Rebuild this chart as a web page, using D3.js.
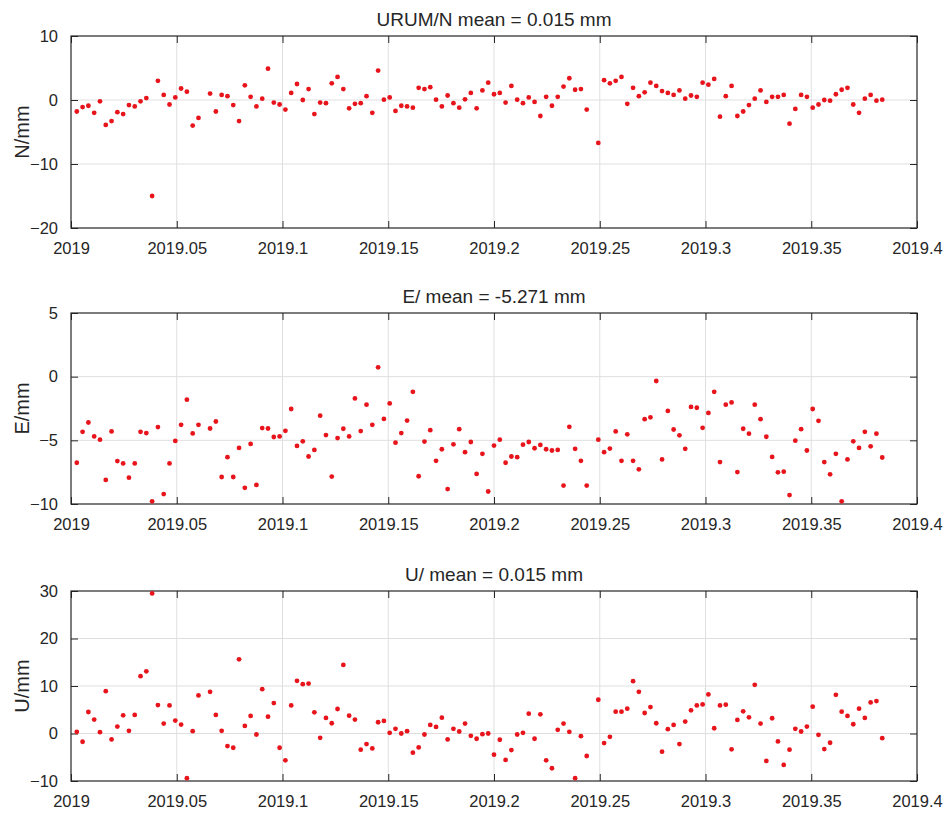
<!DOCTYPE html>
<html>
<head>
<meta charset="utf-8">
<script src="https://cdn.jsdelivr.net/npm/d3@7"></script>
<style>
  body { margin: 0; background: #fff; }
  svg { display: block; }
  text { font-family: "Liberation Sans", Arial, sans-serif; fill: #262626; }
</style>
</head>
<body>
<svg width="949" height="813"></svg>
<script>
// daily solutions, day 1..140 of 2019 (null = no solution that day)
var year0 = 2019;
var nDays = 140;

var northValues = [
  -1.8, -1.1, -0.9, -2.0, -0.2, -3.9, -3.3, -1.9, -2.2, -0.8,
  -1.0, -0.2, 0.3, -15.0, 3.0, 0.8, -0.7, 0.4, 1.8, 1.3,
  -4.0, -2.8, null, 1.0, -1.8, 0.8, 0.6, -0.8, -3.3, 2.3,
  0.5, -1.0, 0.2, 4.9, -0.4, -0.7, -1.5, 1.1, 2.5, 0.0,
  1.7, -2.2, -0.4, -0.5, 2.6, 3.6, 1.7, -1.3, -0.6, -0.5,
  0.6, -2.0, 4.6, 0.05, 0.4, -1.7, -0.9, -1.0, -1.2, 1.9,
  1.7, 2.0, 0.05, -1.0, 0.7, -0.5, -1.2, 0.1, 1.1, -1.3,
  1.5, 2.7, 0.9, 1.1, -0.4, 2.2, 0.05, -0.5, 0.4, -0.3,
  -2.5, 0.5, -0.9, 0.5, 2.1, 3.4, 1.6, 1.7, -1.5, null,
  -6.7, 3.1, 2.6, 3.0, 3.6, -0.6, 1.9, 0.6, 1.2, 2.7,
  2.2, 1.4, 1.1, 0.8, 1.5, 0.2, 0.7, 0.5, 2.7, 2.4,
  3.3, -2.6, 0.6, 2.2, -2.5, -1.8, -0.8, 0.2, 1.5, -0.3,
  0.5, 0.5, 0.8, -3.7, -1.4, 0.8, 0.5, -1.2, -0.7, 0.0,
  -0.1, 0.9, 1.6, 1.9, -0.7, -2.0, 0.2, 0.8, -0.1, 0.05
];

var eastValues = [
  -6.76, -4.33, -3.60, -4.69, -4.95, -8.11, -4.30, -6.63, -6.81, -7.93,
  -6.81, -4.33, -4.43, -9.79, -3.96, -9.22, -6.81, -5.05, -3.78, -1.81,
  -4.46, -3.78, null, -4.07, -3.52, -7.88, -6.32, -7.88, -5.60, -8.73,
  -5.28, -8.50, -4.04, -4.07, -4.74, -4.69, -4.25, -2.54, -5.44, -5.08,
  -6.27, -5.75, -3.06, -4.59, -7.85, -4.82, -4.09, -4.69, -1.71, -4.27,
  -2.20, -3.78, 0.73, -3.32, -2.10, -5.18, -4.43, -3.45, -1.19, -7.82,
  -5.10, -4.20, -6.61, -5.70, -8.83, -5.31, -4.12, -5.93, -5.13, -7.64,
  -6.06, -9.02, -5.41, -4.95, -6.76, -6.27, -6.32, -5.34, -5.13, -5.62,
  -5.36, -5.70, -5.80, -5.75, -8.55, -3.94, -5.67, -6.61, -8.55, null,
  -4.95, -5.93, -5.65, -4.30, -6.61, -4.53, -6.61, -7.28, -3.34, -3.19,
  -0.34, -6.50, -2.69, -4.15, -4.61, -5.67, -2.38, -2.44, -4.02, -2.85,
  -1.19, -6.71, -2.20, -2.02, -7.49, -4.09, -4.48, -2.20, -3.34, -4.72,
  -6.30, -7.51, -7.46, -9.30, -5.03, -4.12, -5.80, -2.54, -3.47, -6.71,
  -7.67, -6.06, -9.79, -6.50, -5.08, -5.60, -4.33, -5.47, -4.48, -6.35
];

var upValues = [
  0.35, -1.74, 4.53, 2.93, 0.28, 8.92, -1.25, 1.46, 3.83, 0.56,
  3.90, 12.06, 13.10, 29.48, 5.99, 2.09, 5.92, 2.72, 1.88, -9.41,
  0.49, 8.01, null, 8.78, 3.90, 0.56, -2.65, -3.00, 15.61, 1.60,
  3.69, -0.21, 9.34, 3.55, 6.41, -3.00, -5.64, 5.92, 11.08, 10.38,
  10.52, 4.46, -0.91, 3.28, 2.16, 5.16, 14.43, 3.76, 2.93, -3.41,
  -2.23, -3.14, 2.37, 2.65, 0.14, 0.98, 0.00, 0.49, -4.04, -2.93,
  -0.21, 1.81, 1.39, 3.34, -1.25, 0.98, 0.42, 2.09, -0.49, -1.11,
  -0.14, 0.00, -4.46, -1.32, -5.57, -3.48, -0.21, 0.14, 4.18, -1.11,
  4.04, -5.64, -7.32, 0.77, 2.09, 0.35, -9.41, -0.56, -4.74, null,
  7.11, -2.02, -0.70, 4.60, 4.60, 5.23, 11.01, 8.78, 4.32, 5.57,
  2.16, -3.83, 0.91, 1.81, -2.23, 2.51, 4.88, 5.92, 6.13, 8.22,
  1.11, 5.92, 6.06, -3.34, 2.86, 4.67, 3.41, 10.24, 2.09, -5.78,
  3.21, -1.67, -6.62, -3.41, 0.98, 0.42, 1.46, 5.64, -0.28, -3.28,
  -1.95, 8.15, 4.60, 3.69, 1.95, 5.23, 3.28, 6.55, 6.83, -0.98
];

var xTicks = [2019, 2019.05, 2019.1, 2019.15, 2019.2, 2019.25, 2019.3, 2019.35, 2019.4];
var xTickLabels = ['2019', '2019.05', '2019.1', '2019.15', '2019.2', '2019.25', '2019.3', '2019.35', '2019.4'];

var panelTitles = ['URUM/N mean = 0.015 mm', 'E/ mean = -5.271 mm', 'U/ mean = 0.015 mm'];
var panelYLabels = ['N/mm', 'E/mm', 'U/mm'];
var panelYDomains = [[-20, 10], [-10, 5], [-10, 30]];
var panelYTicks = [[-20, -10, 0, 10], [-10, -5, 0, 5], [-10, 0, 10, 20, 30]];

var svg = d3.select('svg');
var left = 71, right = 917;
var tops = [36, 313, 591], bottoms = [228, 504, 781];
var tickLen = 7;
var boxColor = '#262626', gridColor = '#dfdfdf', dotColor = '#e8141c';

var x = d3.scaleLinear().domain([2019, 2019.4]).range([left, right]);

// decimal year of each daily epoch
function epoch(i) { return year0 + (i + 1) / 365; }

var series = [northValues, eastValues, upValues];

series.forEach(function(values, p) {
  var top = tops[p], bottom = bottoms[p];
  var y = d3.scaleLinear().domain(panelYDomains[p]).range([bottom, top]);
  var g = svg.append('g');

  //网格
  g.append('g').selectAll('line').data(xTicks.slice(1, -1)).join('line')
    .attr('x1', function(d) { return x(d); }).attr('x2', function(d) { return x(d); })
    .attr('y1', top).attr('y2', bottom)
    .attr('stroke', gridColor).attr('stroke-width', 1);
  g.append('g').selectAll('line').data(panelYTicks[p].slice(1, -1)).join('line')
    .attr('x1', left).attr('x2', right)
    .attr('y1', function(d) { return y(d); }).attr('y2', function(d) { return y(d); })
    .attr('stroke', gridColor).attr('stroke-width', 1);

  // axes with inward ticks
  var fmt = function(d, i) { return xTickLabels[i]; };
  var xb = g.append('g').attr('transform', 'translate(0,' + bottom + ')')
    .call(d3.axisBottom(x).tickValues(xTicks).tickFormat(fmt).tickSizeInner(-tickLen).tickSizeOuter(0).tickPadding(14));
  var xt = g.append('g').attr('transform', 'translate(0,' + top + ')')
    .call(d3.axisTop(x).tickValues(xTicks).tickFormat('').tickSizeInner(-tickLen).tickSizeOuter(0));
  var yl = g.append('g').attr('transform', 'translate(' + left + ',0)')
    .call(d3.axisLeft(y).tickValues(panelYTicks[p]).tickFormat(d3.format('d')).tickSizeInner(-tickLen).tickSizeOuter(0).tickPadding(13));
  var yr = g.append('g').attr('transform', 'translate(' + right + ',0)')
    .call(d3.axisRight(y).tickValues(panelYTicks[p]).tickFormat('').tickSizeInner(-tickLen).tickSizeOuter(0));

  [xb, xt, yl, yr].forEach(function(a) {
    a.select('.domain').remove();
    a.selectAll('.tick line').attr('stroke', boxColor);
    a.selectAll('text').attr('fill', '#262626').style('font-size', '16.5px')
      .style('font-family', '"Liberation Sans", Arial, sans-serif');
  });

  g.append('rect')
    .attr('x', left).attr('y', top).attr('width', right - left).attr('height', bottom - top)
    .attr('fill', 'none').attr('stroke', boxColor).attr('stroke-width', 1.2);

  // 点
  g.append('g').selectAll('circle')
    .data(values.map(function(v, i) { return {t: epoch(i), v: v}; }).filter(function(d) { return d.v !== null; }))
    .join('circle')
    .attr('cx', function(d) { return x(d.t); })
    .attr('cy', function(d) { return y(d.v); })
    .attr('r', 2.4)
    .attr('fill', dotColor);

  g.append('text')
    .attr('x', (left + right) / 2).attr('y', top - 10)
    .attr('text-anchor', 'middle')
    .style('font-size', '19px')
    .text(panelTitles[p]);

  g.append('text')
    .attr('transform', 'translate(29,' + ((top + bottom) / 2) + ') rotate(-90)')
    .attr('text-anchor', 'middle')
    .style('font-size', '20px')
    .text(panelYLabels[p]);
});
</script>
</body>
</html>
